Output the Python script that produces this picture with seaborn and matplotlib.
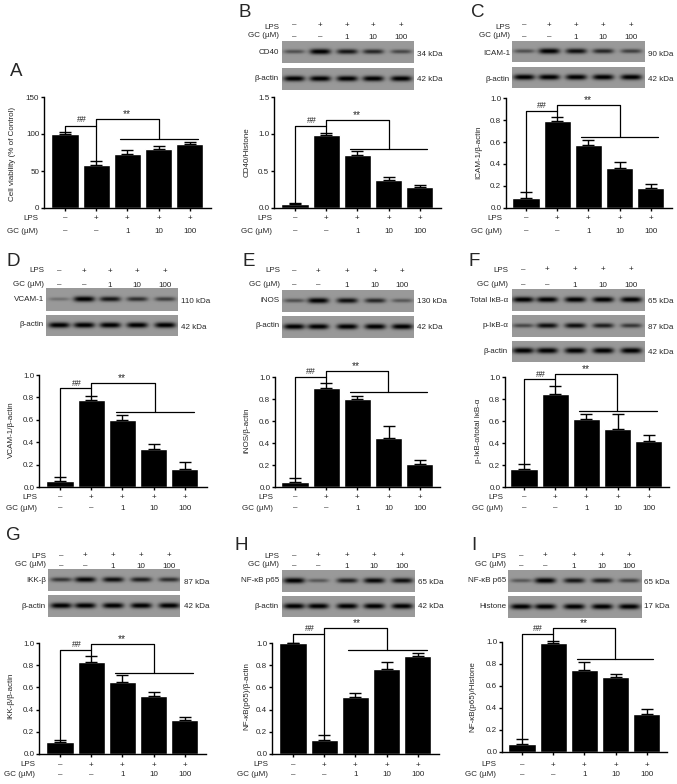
import numpy as np
import pandas as pd
import seaborn as sns
import matplotlib.pyplot as plt

sns.set_style('ticks')
plt.rcParams['font.family'] = ['Liberation Sans', 'DejaVu Sans']

W, H = 677, 784
FS = 5.8

# Bar heights and tops of the error bars
groups = ['-/-', '+/-', '+/1', '+/10', '+/100']
lps_row = ['–', '+', '+', '+', '+']
gc_row = ['–', '–', '1', '10', '100']

a_vals = [100, 58.5, 73, 80, 86]
a_tops = [103, 63.5, 79, 84, 89]
b_vals = [0.05, 0.98, 0.71, 0.38, 0.28]
b_tops = [0.07, 1.02, 0.77, 0.42, 0.315]
c_vals = [0.09, 0.79, 0.57, 0.365, 0.18]
c_tops = [0.145, 0.83, 0.62, 0.415, 0.215]
d_vals = [0.055, 0.78, 0.60, 0.34, 0.165]
d_tops = [0.085, 0.815, 0.64, 0.38, 0.22]
e_vals = [0.05, 0.90, 0.80, 0.45, 0.21]
e_tops = [0.085, 0.945, 0.825, 0.555, 0.245]
f_vals = [0.16, 0.845, 0.62, 0.525, 0.42]
f_tops = [0.205, 0.92, 0.665, 0.66, 0.47]
g_vals = [0.105, 0.83, 0.645, 0.52, 0.31]
g_tops = [0.13, 0.885, 0.71, 0.56, 0.33]
h_vals = [1.0, 0.13, 0.515, 0.77, 0.885]
h_tops = [1.0, 0.175, 0.55, 0.83, 0.91]
i_vals = [0.075, 0.99, 0.75, 0.685, 0.35]
i_tops = [0.115, 1.005, 0.815, 0.71, 0.395]

ticks_150 = [0, 50, 100, 150]
ticks_15 = [0.0, 0.5, 1.0, 1.5]
ticks_10 = [0.0, 0.2, 0.4, 0.6, 0.8, 1.0]

# Band strength on each blot, lane by lane
actin = [0.95, 0.95, 0.95, 0.95, 0.95]
cd40 = [0.45, 0.95, 0.8, 0.7, 0.5]
icam = [0.45, 0.95, 0.85, 0.7, 0.55]
vcam = [0.25, 0.95, 0.8, 0.65, 0.55]
inos = [0.45, 0.95, 0.85, 0.7, 0.4]
total_ikb = [0.95, 0.95, 0.95, 0.95, 0.95]
p_ikb = [0.5, 0.85, 0.85, 0.75, 0.6]
ikk = [0.6, 0.9, 0.85, 0.75, 0.65]
p65_h = [0.95, 0.4, 0.75, 0.9, 0.85]
p65_i = [0.4, 0.95, 0.8, 0.75, 0.55]

# letter, letter pos, values, tops, y ticks, y label, ylabel pos,
# axes box (left, top, right, bottom), bar centres
panels = [
    dict(name='A', letter=(10, 71), vals=a_vals, tops=a_tops, ticks=ticks_150, ylabel='Cell viability (% of Control)',
         yl=(13, 154), box=(44, 97, 211, 208), c0=65, right=38, rows=(218, 231),
         hh=126, ss=119, ll=139, line=(120, 198), s_end=159, hx=82, sx=127),
    dict(name='B', letter=(239, 12), vals=b_vals, tops=b_tops, ticks=ticks_15, ylabel='CD40/Histone',
         yl=(247, 152), box=(274, 97, 441, 208), c0=295, right=272, rows=(218, 231),
         hh=126, ss=120, ll=149, line=(350, 427), s_end=389, hx=312, sx=357),
    dict(name='C', letter=(471, 12), vals=c_vals, tops=c_tops, ticks=ticks_10, ylabel='ICAM-1/β-actin',
         yl=(479, 152), box=(506, 98, 672, 208), c0=526, right=502, rows=(218, 231),
         hh=111, ss=105, ll=137, line=(581, 658), s_end=620, hx=542, sx=588),
    dict(name='D', letter=(7, 262), vals=d_vals, tops=d_tops, ticks=ticks_10, ylabel='VCAM-1/β-actin',
         yl=(11, 430), box=(39, 375, 207, 487), c0=60, right=37, rows=(497, 508),
         hh=388, ss=383, ll=412, line=(116, 194), s_end=155, hx=77, sx=122),
    dict(name='E', letter=(243, 262), vals=e_vals, tops=e_tops, ticks=ticks_10, ylabel='iNOS/β-actin',
         yl=(247, 430), box=(275, 377, 440, 487), c0=295, right=273, rows=(497, 508),
         hh=377, ss=371, ll=392, line=(350, 427), s_end=388, hx=311, sx=356),
    dict(name='F', letter=(469, 262), vals=f_vals, tops=f_tops, ticks=ticks_10, ylabel='p-IκB-α/total IκB-α',
         yl=(478, 431), box=(505, 377, 669, 487), c0=524, right=503, rows=(497, 508),
         hh=379, ss=374, ll=411, line=(579, 657), s_end=617, hx=541, sx=586),
    dict(name='G', letter=(6, 535), vals=g_vals, tops=g_tops, ticks=ticks_10, ylabel='IKK-β/β-actin',
         yl=(11, 696), box=(39, 643, 206, 754), c0=60, right=35, rows=(765, 775),
         hh=650, ss=644, ll=673, line=(115, 193), s_end=154, hx=77, sx=122),
    dict(name='H', letter=(234, 546), vals=h_vals, tops=h_tops, ticks=ticks_10, ylabel='NF-κB(p65)/β-actin',
         yl=(247, 696), box=(272, 643, 439, 754), c0=293, right=268, rows=(765, 775),
         hh=634, ss=628, ll=650, line=(348, 427), s_end=387, hx=310, sx=357),
    dict(name='I', letter=(471, 545), vals=i_vals, tops=i_tops, ticks=ticks_10, ylabel='NF-κB(p65)/Histone',
         yl=(473, 697), box=(502, 642, 667, 752), c0=522, right=496, rows=(765, 775),
         hh=634, ss=628, ll=659, line=(577, 653), s_end=615, hx=538, sx=584),
]

# blot header: label edge, rows y, sign rows y, lanes x, left/right of blot, kDa x
blots = [
    dict(right=279, head=(27, 35), signs=(25, 37), lanes=[294, 320, 347, 373, 401], x=(282, 414), kda_x=417,
         rows=[('CD40', cd40, 41, 63, 52, '34 kDa', 54), ('β-actin', actin, 68, 90, 78, '42 kDa', 79)]),
    dict(right=510, head=(27, 35), signs=(25, 37), lanes=[524, 549, 576, 603, 631], x=(512, 645), kda_x=648,
         rows=[('ICAM-1', icam, 41, 62, 53, '90 kDa', 54), ('β-actin', actin, 67, 88, 79, '42 kDa', 79)]),
    dict(right=44, head=(271, 284), signs=(271, 285), lanes=[59, 84, 110, 137, 165], x=(46, 178), kda_x=181,
         rows=[('VCAM-1', vcam, 288, 311, 299, '110 kDa', 301), ('β-actin', actin, 315, 336, 324, '42 kDa', 327)]),
    dict(right=280, head=(271, 284), signs=(271, 285), lanes=[294, 318, 347, 375, 402], x=(282, 414), kda_x=417,
         rows=[('iNOS', inos, 290, 312, 300, '130 kDa', 301), ('β-actin', actin, 316, 338, 325, '42 kDa', 327)]),
    dict(right=508, head=(270, 284), signs=(270, 285), lanes=[523, 547, 575, 603, 631], x=(512, 645), kda_x=648,
         rows=[('Total IκB-α', total_ikb, 289, 311, 300, '65 kDa', 301), ('p-IκB-α', p_ikb, 315, 337, 325, '87 kDa', 327),
               ('β-actin', actin, 341, 362, 351, '42 kDa', 352)]),
    dict(right=46, head=(556, 564), signs=(556, 566), lanes=[61, 85, 113, 141, 169], x=(48, 180), kda_x=184,
         rows=[('IKK-β', ikk, 569, 591, 581, '87 kDa', 582), ('β-actin', actin, 595, 617, 607, '42 kDa', 607)]),
    dict(right=279, head=(556, 564), signs=(556, 566), lanes=[294, 318, 347, 374, 402], x=(282, 415), kda_x=418,
         rows=[('NF-κB p65', p65_h, 570, 592, 581, '65 kDa', 582), ('β-actin', actin, 596, 617, 607, '42 kDa', 607)]),
    dict(right=506, head=(556, 564), signs=(556, 566), lanes=[521, 545, 574, 602, 629], x=(508, 642), kda_x=644,
         rows=[('NF-κB p65', p65_i, 570, 592, 581, '65 kDa', 582), ('Histone', actin, 596, 618, 607, '17 kDa', 607)]),
]


def px_axes(fig, left, top, right, bottom):
    return fig.add_axes([left / W, 1 - bottom / H, (right - left) / W, (bottom - top) / H])


def draw_bars(fig, over, p):
    left, top, right, bottom = p['box']
    ax = px_axes(fig, left, top, right, bottom)
    df = pd.DataFrame({'group': groups, 'value': p['vals']})
    sns.barplot(data=df, x='group', y='value', color='black', saturation=1, width=0.87, errorbar=None, ax=ax)
    errs = np.array(p['tops']) - np.array(p['vals'])
    ax.errorbar(range(5), p['vals'], yerr=[np.zeros(5), errs], fmt='none', ecolor='black',
                elinewidth=1, capsize=4.6, capthick=1, clip_on=False)
    step = 31.2
    ax.set_xlim((left - p['c0']) / step, (right - p['c0']) / step)
    ax.set_ylim(0, p['ticks'][-1])
    ax.set_yticks(p['ticks'])
    if p['ticks'][-1] == 150:
        ax.set_yticklabels([str(t) for t in p['ticks']])
    else:
        ax.set_yticklabels(['%.1f' % t for t in p['ticks']])
    ax.set_xticks(range(5))
    ax.set_xticklabels([])
    ax.set_xlabel('')
    ax.set_ylabel('')
    ax.tick_params(length=2.4, width=1, labelsize=FS, pad=1, color='black')
    sns.despine(ax=ax)
    for s in ['left', 'bottom']:
        ax.spines[s].set_linewidth(1)
        ax.spines[s].set_color('black')

    # labels under the axis
    centres = [p['c0'] + step * k for k in range(5)]
    for label, row, y in [('LPS', lps_row, p['rows'][0]), ('GC (µM)', gc_row, p['rows'][1])]:
        over.text(p['right'], y, label, ha='right', va='center', fontsize=FS)
        for cx, s in zip(centres, row):
            over.text(cx, y, s, ha='center', va='center', fontsize=FS)
    over.text(p['yl'][0], p['yl'][1], p['ylabel'], rotation=90, ha='center', va='center', fontsize=FS)
    over.text(p['letter'][0], p['letter'][1], p['name'], ha='left', va='center', fontsize=13.5)

    # significance brackets
    to_px = lambda v: bottom - v / p['ticks'][-1] * (bottom - top)
    c0, c1 = centres[0], centres[1]
    over.plot([c0, c0, c1, c1], [to_px(p['tops'][0]), p['hh'], p['hh'], to_px(p['tops'][1])], color='black', lw=0.9)
    over.plot([c1, c1, p['s_end'], p['s_end']], [p['hh'], p['ss'], p['ss'], p['ll']], color='black', lw=0.9)
    over.plot(p['line'], [p['ll'], p['ll']], color='black', lw=0.9)
    over.text(p['hx'], p['ss'] + 0.5, '##', ha='center', va='center', fontsize=FS + 0.6)
    over.text(p['sx'], p['ss'] - 4.5, '**', ha='center', va='center', fontsize=FS + 1.6)


def draw_blot(fig, over, b):
    x0, x1 = b['x']
    for label, bands, top, bottom, ly, kda, ky in b['rows']:
        ax = px_axes(fig, x0, top, x1, bottom)
        xs = np.arange(x0, x1, 0.5)
        ys = np.arange(top, bottom, 0.5)
        xx, yy = np.meshgrid(xs, ys)
        img = np.full(xx.shape, 0.6)
        mid = top + 0.47 * (bottom - top)
        for lane, strength in zip(b['lanes'], bands):
            blob = np.exp(-((xx - lane) / 10.5) ** 4 - ((yy - mid) / (1.3 + 1.5 * strength)) ** 2)
            img = img - blob * strength * 0.66
        ax.imshow(np.clip(img, 0, 1), cmap='gray', vmin=0, vmax=1, aspect='auto', interpolation='bilinear')
        ax.set_axis_off()
        over.text(b['right'], ly, label, ha='right', va='center', fontsize=FS)
        over.text(b['kda_x'], ky, kda, ha='left', va='center', fontsize=FS)
    for label, row, y, sy in [('LPS', lps_row, b['head'][0], b['signs'][0]), ('GC (µM)', gc_row, b['head'][1], b['signs'][1])]:
        over.text(b['right'], y, label, ha='right', va='center', fontsize=FS)
        for cx, s in zip(b['lanes'], row):
            over.text(cx, sy, s, ha='center', va='center', fontsize=FS)


fig = plt.figure(figsize=(W / 100, H / 100), dpi=100)
over = fig.add_axes([0, 0, 1, 1], zorder=5)
over.set_xlim(0, W)
over.set_ylim(H, 0)
over.patch.set_alpha(0)
over.set_axis_off()

for p in panels:
    draw_bars(fig, over, p)
for b in blots:
    draw_blot(fig, over, b)

fig.savefig('out.png', dpi=100)
